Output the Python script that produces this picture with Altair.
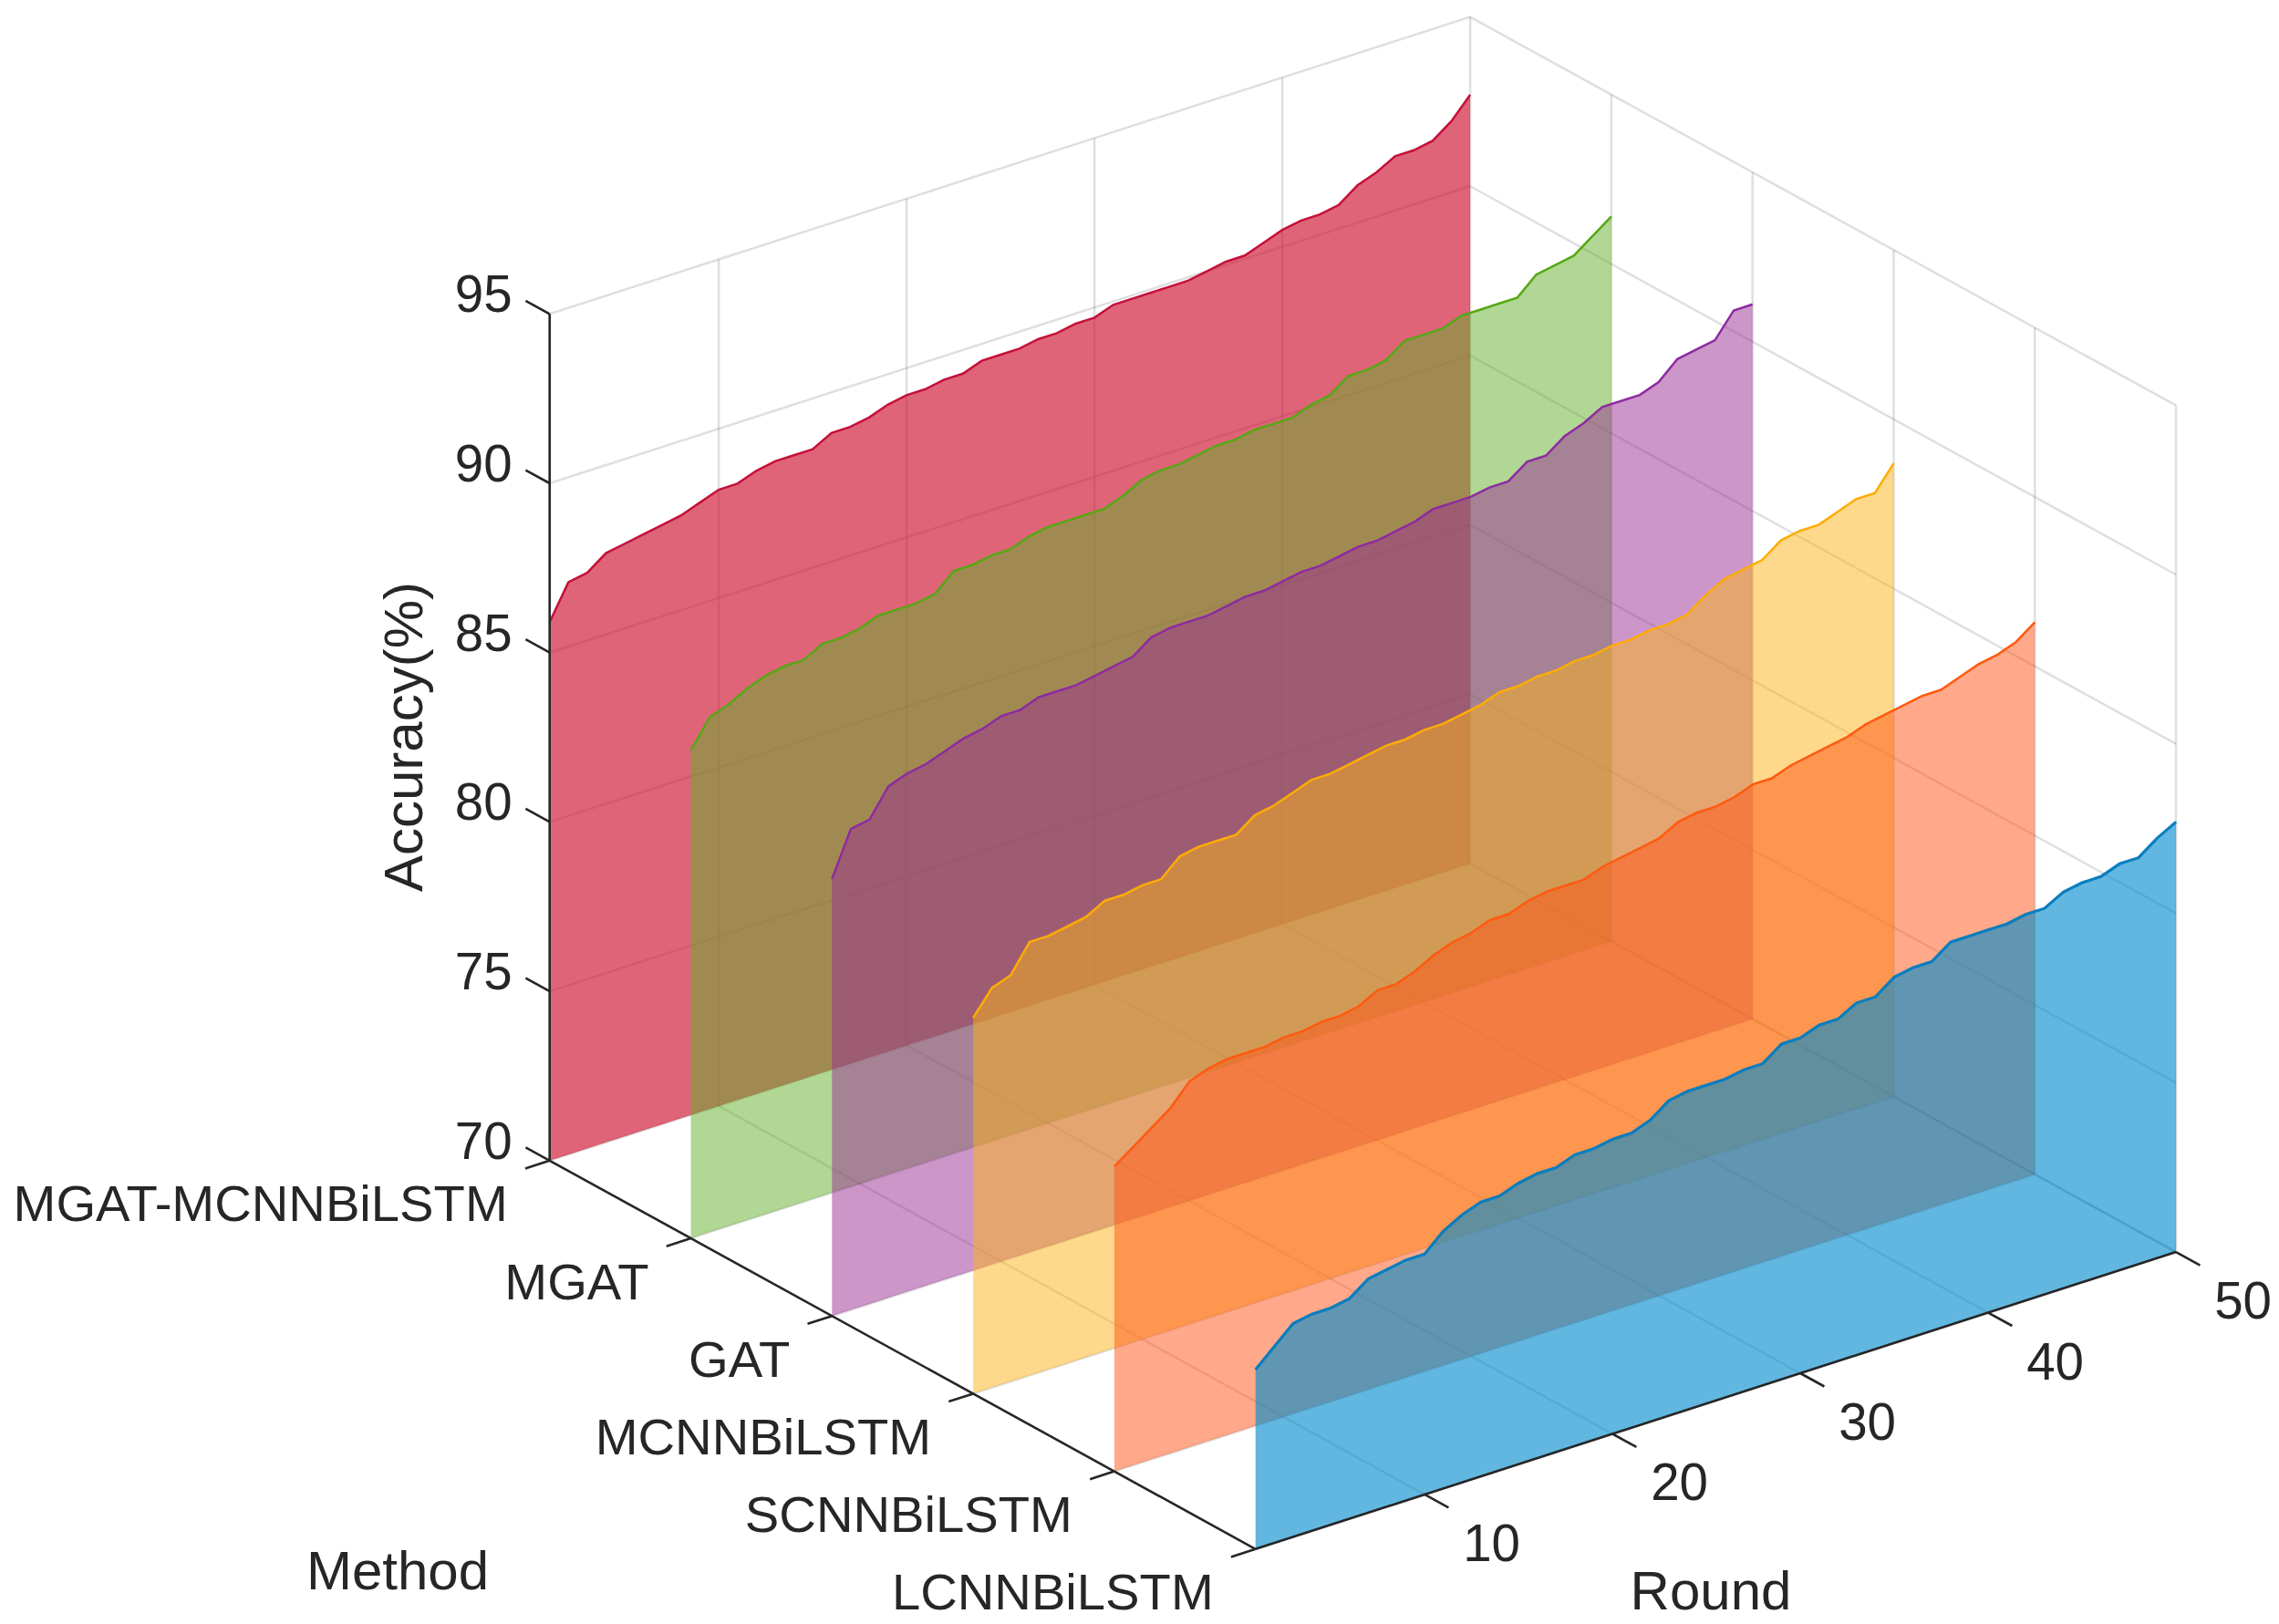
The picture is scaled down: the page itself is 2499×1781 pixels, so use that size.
import altair as alt
import pandas as pd

methods = ["MGAT-MCNNBiLSTM", "MGAT", "GAT", "MCNNBiLSTM", "SCNNBiLSTM", "LCNNBiLSTM"]
rounds = list(range(1, 51))
round_ticks = [10, 20, 30, 40, 50]
acc_ticks = [70, 75, 80, 85, 90, 95]

mgat_mcnnbilstm = [85.9, 86.9, 87.0, 87.4, 87.5, 87.6, 87.7, 87.8, 88.0, 88.2,
                   88.2, 88.4, 88.5, 88.5, 88.5, 88.8, 88.8, 88.9, 89.1, 89.2,
                   89.2, 89.3, 89.3, 89.5, 89.5, 89.5, 89.6, 89.6, 89.7, 89.7,
                   89.9, 89.9, 89.9, 89.9, 89.9, 90.0, 90.1, 90.1, 90.3, 90.5,
                   90.6, 90.6, 90.7, 91.1, 91.3, 91.6, 91.6, 91.7, 92.1, 92.7]
mgat = [84.4, 85.2, 85.4, 85.7, 85.9, 86.0, 86.0, 86.3, 86.3, 86.4,
        86.6, 86.6, 86.6, 86.7, 87.2, 87.2, 87.3, 87.3, 87.5, 87.6,
        87.6, 87.6, 87.6, 87.8, 88.1, 88.2, 88.2, 88.3, 88.4, 88.4,
        88.5, 88.5, 88.5, 88.7, 88.8, 89.2, 89.2, 89.3, 89.7, 89.7,
        89.7, 89.9, 89.9, 89.9, 89.9, 90.4, 90.5, 90.6, 91.0, 91.4]
gat = [82.9, 84.2, 84.3, 85.1, 85.3, 85.4, 85.6, 85.8, 85.9, 86.1,
       86.1, 86.3, 86.3, 86.3, 86.4, 86.5, 86.6, 87.0, 87.1, 87.1,
       87.1, 87.2, 87.3, 87.3, 87.4, 87.5, 87.5, 87.6, 87.7, 87.7,
       87.8, 87.9, 88.1, 88.1, 88.1, 88.2, 88.2, 88.6, 88.6, 89.0,
       89.2, 89.5, 89.5, 89.5, 89.7, 90.2, 90.3, 90.4, 91.1, 91.1]
mcnnbilstm = [81.1, 81.8, 82.0, 82.8, 82.8, 82.9, 83.0, 83.3, 83.3, 83.4,
              83.4, 83.9, 84.0, 84.0, 84.0, 84.4, 84.5, 84.7, 84.9, 84.9,
              85.0, 85.1, 85.2, 85.2, 85.3, 85.3, 85.4, 85.5, 85.7, 85.7,
              85.8, 85.8, 85.9, 85.9, 86.0, 86.0, 86.1, 86.1, 86.2, 86.6,
              86.9, 87.0, 87.1, 87.5, 87.6, 87.6, 87.8, 88.0, 88.0, 88.7]
scnnbilstm = [79.0, 79.4, 79.8, 80.2, 80.8, 81.0, 81.1, 81.1, 81.1, 81.2,
              81.2, 81.3, 81.3, 81.4, 81.7, 81.7, 81.9, 82.2, 82.4, 82.5,
              82.7, 82.7, 82.9, 83.0, 83.0, 83.0, 83.2, 83.3, 83.4, 83.5,
              83.8, 83.9, 83.9, 84.0, 84.2, 84.2, 84.4, 84.5, 84.6, 84.7,
              84.9, 85.0, 85.1, 85.2, 85.2, 85.4, 85.6, 85.7, 85.9, 86.3]
lcnnbilstm = [75.3, 75.8, 76.3, 76.4, 76.4, 76.5, 76.9, 77.0, 77.1, 77.1,
              77.6, 77.9, 78.1, 78.1, 78.3, 78.4, 78.4, 78.6, 78.6, 78.7,
              78.7, 78.9, 79.3, 79.4, 79.4, 79.4, 79.5, 79.5, 79.9, 79.9,
              80.1, 80.1, 80.4, 80.4, 80.8, 80.9, 80.9, 81.3, 81.3, 81.3,
              81.3, 81.4, 81.4, 81.7, 81.8, 81.8, 82.0, 82.0, 82.4, 82.7]
series = [mgat_mcnnbilstm, mgat, gat, mcnnbilstm, scnnbilstm, lcnnbilstm]

fills = ["#CE1332", "#63AF29", "#992D93", "#FDB317", "#FF5315", "#008BCD"]
alphas = [0.66, 0.5, 0.5, 0.5, 0.5, 0.62]
edges = ["#C4103A", "#55A813", "#8E2BA0", "#FDAC05", "#FF5A0F", "#0A7DBE"]
edge_widths = [2.5, 2.5, 2.5, 2.5, 2.5, 3.2]

FONT = "Liberation Sans"
INK = "#262626"


def px(r, m, z):
    """Orthographic 3D view: (round, method index, accuracy) to page position."""
    return 602.7 + 20.6 * (r - 1) + 154.8 * m


def py(r, m, z):
    return 1272.8 - 6.648 * (r - 1) + 85.2 * m - 37.14 * (z - 70)


xs = alt.Scale(domain=[8, 2491], range=[0, 2483], nice=False, zero=False)
ys = alt.Scale(domain=[1781, 8], range=[1773, 0], nice=False, zero=False)
X = alt.X("x:Q", scale=xs, axis=None)
Y = alt.Y("y:Q", scale=ys, axis=None)


def segments(items):
    rows = []
    for k, (a, b) in enumerate(items):
        rows.append({"seg": k, "ord": 0, "x": px(*a), "y": py(*a)})
        rows.append({"seg": k, "ord": 1, "x": px(*b), "y": py(*b)})
    return pd.DataFrame(rows)


def seg_layer(items, color, width, opacity=1.0):
    return alt.Chart(segments(items)).mark_line(
        color=color, strokeWidth=width, opacity=opacity, interpolate="linear"
    ).encode(x=X, y=Y, detail="seg:N", order="ord:Q")


def text_layer(rows, size, align, angle=None):
    kw = {"angle": angle} if angle is not None else {}
    return alt.Chart(pd.DataFrame(rows)).mark_text(
        font=FONT, fontSize=size, color=INK, align=align, baseline="middle", **kw
    ).encode(x=X, y=Y, text="t:N")


grid_items = []
for z in acc_ticks:
    grid_items.append(((1, 0, z), (50, 0, z)))
    grid_items.append(((50, 0, z), (50, 5, z)))
for r in round_ticks:
    grid_items.append(((r, 0, 70), (r, 0, 95)))
    grid_items.append(((r, 0, 70), (r, 5, 70)))
for m in range(1, 6):
    grid_items.append(((50, m, 70), (50, m, 95)))
    grid_items.append(((1, m, 70), (50, m, 70)))

layers = [seg_layer(grid_items, INK, 2.5, 0.15)]

for i, vals in enumerate(series):
    wall = pd.DataFrame({
        "x": [px(r, i, 70) for r in rounds],
        "y": [py(r, i, v) for r, v in zip(rounds, vals)],
        "y0": [py(r, i, 70) for r in rounds],
    })
    layers.append(alt.Chart(wall).mark_area(
        color=fills[i], opacity=alphas[i], interpolate="linear", orient="vertical"
    ).encode(x=X, y=Y, y2="y0:Q"))
    layers.append(alt.Chart(wall).mark_line(
        color=edges[i], strokeWidth=edge_widths[i], interpolate="linear"
    ).encode(x=X, y=Y))

axis_items = [
    ((1, 0, 70), (1, 0, 95)),
    ((1, 0, 70), (1, 5, 70)),
    ((1, 5, 70), (50, 5, 70)),
]
for z in acc_ticks:
    axis_items.append(((1, 0, z), (1, -0.17, z)))
for m in range(0, 6):
    axis_items.append(((1, m, 70), (-0.3, m, 70)))
for r in round_ticks:
    axis_items.append(((r, 5, 70), (r, 5.17, 70)))
layers.append(seg_layer(axis_items, INK, 2.6))

layers.append(text_layer(
    [{"x": px(1, 0, z) - 41, "y": py(1, 0, z) - 19, "t": str(z)} for z in acc_ticks], 56.5, "right"))
layers.append(text_layer(
    [{"x": px(1, m, 70) - 46, "y": py(1, m, 70) + 49.5, "t": name} for m, name in enumerate(methods)], 56.2, "right"))
layers.append(text_layer(
    [{"x": px(r, 5, 70) + 73.5, "y": py(r, 5, 70) + 56, "t": str(r)} for r in round_ticks], 56.5, "center"))
layers.append(text_layer([{"x": 445, "y": 808, "t": "Accuracy(%)"}], 60, "center", 270))
layers.append(text_layer([{"x": 436, "y": 1725, "t": "Method"}], 60, "center"))
layers.append(text_layer([{"x": 1876, "y": 1747, "t": "Round"}], 60, "center"))

chart = alt.layer(*layers).properties(
    width=2483, height=1773, padding=0,
    autosize=alt.AutoSizeParams(type="none"),
).configure_view(stroke=None)

chart.save("out.html", embed_options={"renderer": "svg", "actions": False})
